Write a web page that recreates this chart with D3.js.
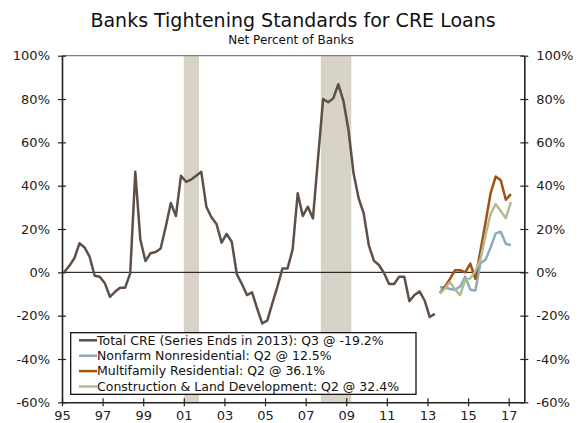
<!DOCTYPE html>
<html>
<head>
<meta charset="utf-8">
<script src="https://cdn.jsdelivr.net/npm/d3@7"></script>
<style>
  html, body { margin: 0; padding: 0; background: #fff; }
  svg { display: block; font-family: "DejaVu Sans", Verdana, sans-serif; }
</style>
</head>
<body>
<svg id="chart" width="586" height="423"></svg>
<script>
// ---------- DATA ----------
// Total CRE: quarterly, 1995Q2 .. 2013Q3
const totalStart = [1995, 2];
const totalCRE = [
  0, 3, 6.5, 13.4, 11.5, 7.2, -1.6, -2, -5, -11.3, -9, -7.1, -7.1, -0.5,
  46.4, 15, 5.2, 8.8, 9.4, 11, 21, 32, 26, 44.6, 41.8, 42.8, 44.6, 46.4,
  30.3, 25.4, 22.3, 13.7, 17.7, 14.1, -0.8, -5.4, -10.5, -9.2, -16.6, -23.6,
  -22.3, -14.3, -6.6, 1.8, 1.8, 10.6, 36.5, 26, 30.3, 24.9, 52.5, 80, 78.5,
  80.3, 86.8, 79.2, 65.7, 45.7, 34.2, 27.2, 12.6, 5.4, 3.4, -0.3, -5.4, -5.4,
  -2, -2, -13.3, -10.5, -8.8, -13, -20.6, -19.2
];
// New series: quarterly, 2013Q4 .. 2017Q2
const newStart = [2013, 4];
const nonfarm = [-6.9, -6.9, -7.7, -8, -6.6, -2, -8, -8.4, 4.2, 5.8, 11.5, 18, 18.7, 13.2, 12.5];
const multifamily = [-9.7, -6.6, -3, 1, 1, 0, 4, -3, 10, 23, 36.5, 44.2, 42.5, 33.5, 36.1];
const construction = [-9.7, -7.5, -4.5, -8, -10.5, -3.5, -2.8, 0.5, 6, 17, 27, 31.5, 28.3, 25, 32.4];

const recessions = [[2001.0, 2001.75], [2007.75, 2009.25]];
const yTicks = [100, 80, 60, 40, 20, 0, -20, -40, -60];
const xTickYears = [1995, 1997, 1999, 2001, 2003, 2005, 2007, 2009, 2011, 2013, 2015, 2017];

const seriesNames = [
  "Total CRE (Series Ends in 2013): Q3 @ -19.2%",
  "Nonfarm Nonresidential: Q2 @ 12.5%",
  "Multifamily Residential: Q2 @ 36.1%",
  "Construction & Land Development: Q2 @ 32.4%"
];
const seriesColors = ["#5e5047", "#8eaabf", "#a1520f", "#b3bb95"];

// ---------- LAYOUT ----------
const L = 62, R = 524.3, T = 55.7, B = 402.3;
const svg = d3.select("#chart");

const x = d3.scaleLinear().domain([1995, 2017.77]).range([L, R]);
const y = d3.scaleLinear().domain([-60, 100]).range([B, T]);

// quarterly observation date (survey timing sits slightly before the quarter start on this axis)
function qDate(start, i) {
  const q0 = (start[0] * 4 + (start[1] - 1)) + i;
  return q0 / 4 - 0.14;
}
function toPoints(start, vals) {
  return vals.map((v, i) => ({ t: qDate(start, i), v }));
}

// recession shading
svg.append("g").selectAll("rect").data(recessions).join("rect")
  .attr("x", d => x(d[0])).attr("width", d => x(d[1]) - x(d[0]))
  .attr("y", T).attr("height", B - T)
  .attr("fill", "#d7d3c7");

// top border
svg.append("line").attr("x1", L).attr("x2", R).attr("y1", T).attr("y2", T)
  .attr("stroke", "#808080").attr("stroke-width", 1.2);

// zero line
svg.append("line").attr("x1", L).attr("x2", R).attr("y1", y(0)).attr("y2", y(0))
  .attr("stroke", "#000").attr("stroke-width", 1);

// axes
const fmt = d => d + "%";
const leftAxis = d3.axisLeft(y).tickValues(yTicks).tickFormat(fmt).tickSizeInner(4).tickSizeOuter(0).tickPadding(8);
const rightAxis = d3.axisRight(y).tickValues(yTicks).tickFormat(fmt).tickSizeInner(4).tickSizeOuter(0).tickPadding(8);
const bottomAxis = d3.axisBottom(x).tickValues(xTickYears)
  .tickFormat(d => String(d % 100).padStart(2, "0")).tickSizeInner(4).tickSizeOuter(0).tickPadding(9);

function styleAxis(g) {
  g.select(".domain").attr("stroke", "#222").attr("stroke-width", 1.6);
  g.selectAll(".tick line").attr("stroke", "#222").attr("stroke-width", 1.2);
  g.selectAll(".tick text").attr("fill", "#222").style("font-size", "13px")
   .style("font-family", "'DejaVu Sans', Verdana, sans-serif");
}

const gl = svg.append("g").attr("transform", `translate(${L},0)`).call(leftAxis).call(styleAxis);
gl.selectAll(".tick line").attr("x1", -4).attr("x2", 4);
gl.selectAll(".tick text").attr("x", -12);

const gr = svg.append("g").attr("transform", `translate(${R},0)`).call(rightAxis).call(styleAxis);
gr.selectAll(".tick line").attr("x1", -4).attr("x2", 4);
gr.selectAll(".tick text").attr("x", 12);

const gb = svg.append("g").attr("transform", `translate(0,${B})`).call(bottomAxis).call(styleAxis);
gb.selectAll(".tick line").attr("y1", -4).attr("y2", 4);
gb.selectAll(".tick text").attr("y", 8.5);

// lines
const line = d3.line().x(d => x(d.t)).y(d => y(d.v)).curve(d3.curveLinear);
const allSeries = [
  toPoints(totalStart, totalCRE),
  toPoints(newStart, nonfarm),
  toPoints(newStart, multifamily),
  toPoints(newStart, construction)
];
svg.append("g").selectAll("path").data(allSeries).join("path")
  .attr("d", line)
  .attr("fill", "none")
  .attr("stroke", (d, i) => seriesColors[i])
  .attr("stroke-width", 2.5)
  .attr("stroke-linejoin", "round");

// legend
const lg = svg.append("g");
lg.append("rect").attr("x", 70.7).attr("y", 332.7).attr("width", 345.3).attr("height", 61.6)
  .attr("fill", "#fff").attr("stroke", "#000").attr("stroke-width", 1.2);
const rows = lg.selectAll("g.row").data(seriesNames).join("g").attr("class", "row")
  .attr("transform", (d, i) => `translate(0,${340.3 + i * 15.4})`);
rows.append("line").attr("x1", 79).attr("x2", 97).attr("y1", 0).attr("y2", 0)
  .attr("stroke", (d, i) => seriesColors[i]).attr("stroke-width", 2.5);
rows.append("text").attr("x", 97).attr("y", 0).attr("dy", "0.35em")
  .style("font-size", "12.5px").attr("fill", "#111").text(d => d);

// titles
svg.append("text").attr("x", 293).attr("y", 27).attr("text-anchor", "middle")
  .style("font-size", "19px").attr("fill", "#111").text("Banks Tightening Standards for CRE Loans");
svg.append("text").attr("x", 291).attr("y", 43.5).attr("text-anchor", "middle")
  .style("font-size", "12px").attr("fill", "#111").text("Net Percent of Banks");
</script>
</body>
</html>
